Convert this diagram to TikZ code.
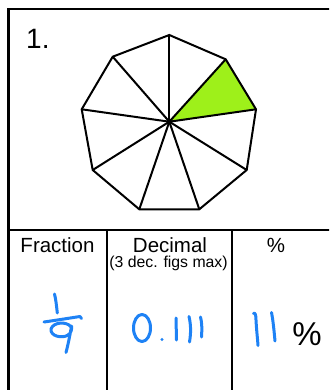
\documentclass[tikz,border=0pt]{standalone}
\usepackage{fontspec}
\setmainfont{Liberation Sans}
\definecolor{limefill}{RGB}{158,240,26}
\definecolor{ink}{RGB}{30,130,245}
\begin{document}
\begin{tikzpicture}[x=1pt,y=-1pt,
  frame/.style={line width=2.4pt},
  rule/.style={line width=1.6pt},
  poly/.style={line width=2pt, line join=miter},
  hand/.style={draw=ink, line width=3pt, line cap=round, line join=round},
  hdr/.style={font=\fontsize{20.5}{24}\selectfont, inner sep=0pt, anchor=base},
  sub/.style={font=\fontsize{15.8}{18}\selectfont, inner sep=0pt, anchor=base},
]
\useasboundingbox (0,0) rectangle (329,390);
\clip (0,0) rectangle (329,390);
\fill[white] (0,0) rectangle (329,390);

% frame and table rules
\coordinate (tl) at (8.5,9);
\coordinate (bl) at (8.5,400);
\coordinate (tr) at (340,9);
\coordinate (ml) at (8.5,230);
\coordinate (mr) at (340,230);
\coordinate (d1t) at (107,230);
\coordinate (d1b) at (107,400);
\coordinate (d2t) at (232,230);
\coordinate (d2b) at (232,400);
\draw[frame] (bl) -- (tl) -- (tr);
\draw[rule] (ml) -- (mr);
\draw[rule] (d1t) -- (d1b);
\draw[rule] (d2t) -- (d2b);

% nonagon
\coordinate (c) at (169.3,121.7);
\foreach \n/\x/\y in {1/169.3/35, 2/225.7/59.3, 3/256/109.3, 4/246.7/170, 5/199.3/209.3, 6/139.3/209.3, 7/92.7/170, 8/81.7/109.3, 9/112.7/56.7}
  \coordinate (v\n) at (\x,\y);
\fill[limefill] (c) -- (v2) -- (v3) -- cycle;
\foreach \n in {1,...,9} \draw[poly] (c) -- (v\n);
\draw[poly] (v1) -- (v2) -- (v3) -- (v4) -- (v5) -- (v6) -- (v7) -- (v8) -- (v9) -- cycle;

% labels
\node[font=\fontsize{28}{32}\selectfont, inner sep=0pt, anchor=base west] (num) at (26,49) {1.};
\node[hdr] (hfrac) at (57.5,252) {Fraction};
\node[hdr] (hdec) at (170,252) {Decimal};
\node[sub] (hsub) at (168.5,267) {(3 dec. figs max)};
\node[hdr] (hpct) at (276,252) {\%};
\node[font=\fontsize{33}{36}\selectfont, inner sep=0pt, anchor=base] (pct) at (307,345) {\%};

% handwriting: 1/9
\draw[hand] (54.5,294) .. controls (56,300) and (56.5,306) .. (57.3,313);
\draw[hand] (44,322) .. controls (58,320) and (70,318) .. (80,316.5) -- (81.5,318.5);
\draw[hand] (71,327) .. controls (67,321) and (53,322) .. (51,329) .. controls (50,336) and (62,339) .. (68,335) .. controls (71,333) and (72,330) .. (71.5,326) .. controls (70,335) and (68,345) .. (66,352.5);

% handwriting: 0.111
\draw[hand] (142,328) ellipse [x radius=8.5, y radius=13.5];
\fill[ink] (162,339.5) circle (1.7);
\draw[hand] (176,318) -- (176.5,340);
\draw[hand] (189,316.5) .. controls (191,325) and (191,333) .. (189.5,342);
\draw[hand] (200.5,317) .. controls (202,322) and (202,330) .. (201.5,337);

% handwriting: 11
\draw[hand] (253.5,313.5) .. controls (255,312) and (256,315) .. (256,320) .. controls (256.5,330) and (257.5,338) .. (258,345.5);
\draw[hand] (271.5,312.5) .. controls (273,320) and (274,330) .. (275,341);
\end{tikzpicture}
\end{document}
